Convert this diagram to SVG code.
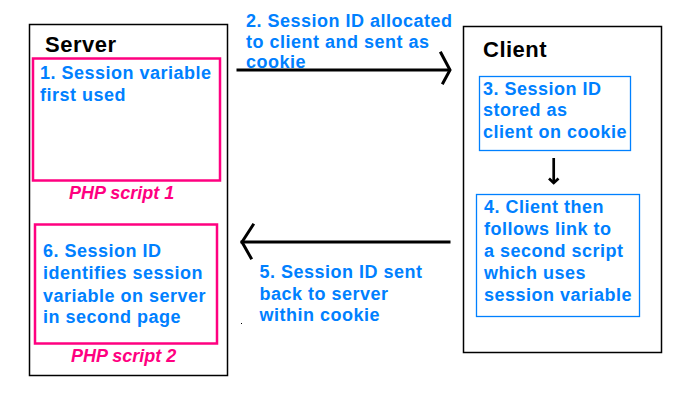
<svg xmlns="http://www.w3.org/2000/svg" width="675" height="404" viewBox="0 0 675 404">
<style>
.frame{fill:none;stroke:#000;stroke-width:1.5}
.pink{fill:none;stroke:#ff0080;stroke-width:2.5}
.blue{fill:none;stroke:#0080ff;stroke-width:1.3}
.t{font-family:"Liberation Sans",Arial,sans-serif;font-weight:bold;font-size:18px;fill:#0080ff;letter-spacing:0.5px}
.h{font-family:"Liberation Sans",Arial,sans-serif;font-size:22px;font-weight:bold;fill:#000;letter-spacing:0.5px}
.php{font-family:"Liberation Sans",Arial,sans-serif;font-size:18px;font-weight:bold;font-style:italic;fill:#ff0080}
.line{fill:none;stroke:#000;stroke-width:3;stroke-linecap:square}
</style>
<rect width="675" height="404" fill="#fff"/>
<g id="server">
<rect class="frame" x="29.5" y="24.5" width="198" height="351"/>
<text class="h" x="45" y="52">Server</text>
</g>
<g id="script1">
<rect class="pink" x="33" y="58.5" width="187" height="122"/>
<text class="t" x="40" y="79">1. Session variable</text>
<text class="t" x="40" y="101">first used</text>
<text class="php" x="69" y="199">PHP script 1</text>
</g>
<g id="script2">
<rect class="pink" x="35" y="224.5" width="182" height="119"/>
<text class="t" x="43" y="257">6. Session ID</text>
<text class="t" x="43" y="279">identifies session</text>
<text class="t" x="43" y="301.5">variable on server</text>
<text class="t" x="43" y="323">in second page</text>
<text class="php" x="71" y="362">PHP script 2</text>
</g>
<g id="client">
<rect class="frame" x="463.5" y="26.5" width="198" height="326"/>
<text class="h" x="483" y="57">Client</text>
</g>
<g id="step3">
<rect class="blue" x="479.5" y="76.5" width="151" height="74"/>
<text class="t" x="483" y="95">3. Session ID</text>
<text class="t" x="483" y="116">stored as</text>
<text class="t" x="483" y="138">client on cookie</text>
</g>
<g id="step4">
<rect class="blue" x="476.5" y="194.5" width="163" height="122"/>
<text class="t" x="484" y="213">4. Client then</text>
<text class="t" x="484" y="234.5">follows link to</text>
<text class="t" x="484" y="256.5">a second script</text>
<text class="t" x="484" y="278.5">which uses</text>
<text class="t" x="484" y="300.5">session variable</text>
</g>
<g id="connectors">
<line class="line" x1="238" y1="70" x2="449" y2="70"/>
<polyline class="line" points="441,53 450,70 443,83" stroke-linecap="butt"/>
<line class="line" x1="242" y1="242" x2="449" y2="242"/>
<polyline class="line" points="253,225 242,242 251,258" stroke-linecap="butt"/>
<line x1="553.7" y1="158" x2="553.7" y2="183" stroke="#000" stroke-width="2.7"/>
<polyline points="549,178.5 553.7,183 558.5,178.5" fill="none" stroke="#000" stroke-width="2.7"/>
<text class="t" x="246" y="26.5">2. Session ID allocated</text>
<text class="t" x="246" y="47.5">to client and sent as</text>
<text class="t" x="246" y="67.5">cookie</text>
<text class="t" x="259.5" y="277.5">5. Session ID sent</text>
<text class="t" x="259.5" y="299.5">back to server</text>
<text class="t" x="259.5" y="321">within cookie</text>
<rect x="241" y="323" width="1" height="1" fill="#000"/>
</g>
</svg>
